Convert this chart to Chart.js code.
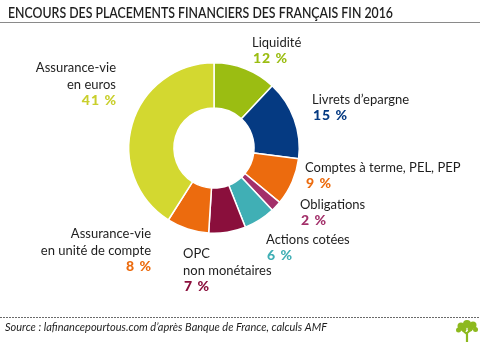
<!DOCTYPE html>
<html><head><meta charset="utf-8">
<script src="https://cdn.jsdelivr.net/npm/chart.js@4/dist/chart.umd.min.js"></script>
<style>html,body{margin:0;padding:0;background:#fff;} #wrap{position:relative;width:480px;height:342px;}</style>
</head><body><div id="wrap"><canvas id="c" width="480" height="342"></canvas></div>
<script>
const title = "ENCOURS DES PLACEMENTS FINANCIERS DES FRANÇAIS FIN 2016";
const source = "Source : lafinancepourtous.com d’après Banque de France, calculs AMF";
const categories = ["Liquidité", "Livrets d’epargne", "Comptes à terme, PEL, PEP", "Obligations", "Actions cotées", "OPC non monétaires", "Assurance-vie en unité de compte", "Assurance-vie en euros"];
const labelLines = [["Liquidité"], ["Livrets d’epargne"], ["Comptes à terme, PEL, PEP"], ["Obligations"], ["Actions cotées"], ["OPC", "non monétaires"], ["Assurance-vie", "en unité de compte"], ["Assurance-vie", "en euros"]];
const values = [12, 15, 9, 2, 6, 7, 8, 41];
const sliceColors = ["#9bbd12", "#053a82", "#ec6b0e", "#a3306a", "#40afb5", "#8a0f3c", "#ec6b0e", "#d3d830"];
const pctColors = ["#9bbd12", "#053a82", "#ec6b0e", "#a3306a", "#40afb5", "#8a0f3c", "#ec6b0e", "#c9cf2c"];

// annotation layout (text placement only)
const labelLayout = [
  {x: 252, y: 43, align: 'left'},
  {x: 312, y: 100, align: 'left'},
  {x: 305, y: 168, align: 'left'},
  {x: 300, y: 205, align: 'left'},
  {x: 266, y: 240, align: 'left'},
  {x: 183, y: 254, align: 'left'},
  {x: 151, y: 234, align: 'right'},
  {x: 116, y: 68, align: 'right'}
];
const LINE_H = 16.8;
const LABEL_FONT = '13px Lato';
const PCT_FONT = '900 14px Lato';

const textPlugin = {
  id: 'texts',
  afterDraw(chart) {
    const ctx = chart.ctx;
    ctx.save();
    // title
    ctx.fillStyle = '#1e1e1e';
    ctx.font = '600 15px Lato';
    ctx.textBaseline = 'alphabetic';
    ctx.textAlign = 'left';
    ctx.fillText(title, 8, 18, 385);
    ctx.strokeStyle = '#8a8a8a';
    ctx.lineWidth = 1;
    ctx.beginPath(); ctx.moveTo(0, 22.5); ctx.lineTo(480, 22.5); ctx.stroke();

    // labels
    ctx.textBaseline = 'middle';
    labelLines.forEach((lines, i) => {
      const L = labelLayout[i];
      ctx.textAlign = L.align;
      ctx.fillStyle = '#1e1e1e';
      ctx.font = LABEL_FONT;
      ctx.letterSpacing = '0px';
      lines.forEach((t, j) => ctx.fillText(t, L.x, L.y + j * LINE_H));
      ctx.font = PCT_FONT;
      ctx.letterSpacing = '1px';
      ctx.fillStyle = pctColors[i];
      ctx.fillText(values[i] + ' %', L.x + 1, L.y + lines.length * LINE_H - 1);
    });
    ctx.letterSpacing = '0px';

    // footer dotted line
    ctx.fillStyle = '#6a6a6a';
    for (let x = 0; x < 480; x += 3) ctx.fillRect(x, 317, 2, 1);
    ctx.fillStyle = '#1e1e1e';
    ctx.font = 'italic 11px Lato';
    ctx.textAlign = 'left';
    ctx.textBaseline = 'middle';
    ctx.fillText(source, 5, 327, 328);

    // small tree logo
    const g = '#8db91e';
    ctx.fillStyle = g; ctx.strokeStyle = g;
    ctx.lineWidth = 2.2;
    ctx.beginPath();
    ctx.moveTo(467, 342); ctx.lineTo(467, 332);
    ctx.moveTo(467, 334); ctx.lineTo(461, 329);
    ctx.moveTo(467, 333); ctx.lineTo(473, 328);
    ctx.stroke();
    [[461, 326, 3.5], [467, 324, 4], [473, 325, 3.5], [458.5, 330, 2.5], [475.5, 329.5, 2.5], [464, 329, 2.5], [470, 329, 2.5]].forEach(([x, y, r]) => {
      ctx.beginPath(); ctx.arc(x, y, r, 0, Math.PI * 2); ctx.fill();
    });
    ctx.restore();
  }
};

new Chart(document.getElementById('c'), {
  type: 'doughnut',
  data: {
    labels: categories,
    datasets: [{
      data: values,
      backgroundColor: sliceColors,
      borderColor: '#ffffff',
      borderWidth: 1.5,
      hoverOffset: 0
    }]
  },
  options: {
    responsive: false,
    animation: false,
    cutout: '47%',
    layout: {padding: {left: 128, top: 62, right: 180, bottom: 108}},
    plugins: {legend: {display: false}, tooltip: {enabled: false}}
  },
  plugins: [textPlugin]
});
</script>
</body></html>
